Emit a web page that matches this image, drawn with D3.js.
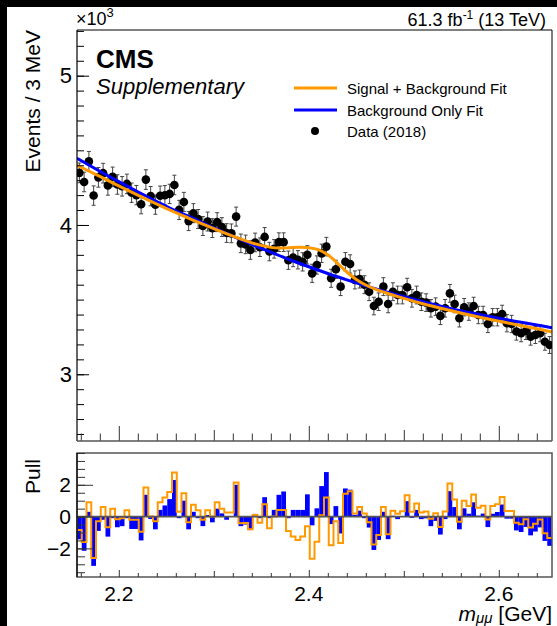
<!DOCTYPE html>
<html>
<head>
<meta charset="utf-8">
<script src="https://cdn.jsdelivr.net/npm/d3@7"></script>
<style>
  body { margin: 0; background: #fff; }
  svg { display: block; }
  text { font-family: "Liberation Sans", Arial, Helvetica, sans-serif; fill: #000; }
</style>
</head>
<body>
<svg id="chart" width="557" height="626"></svg>
<script>
// ---- data -------------------------------------------------------------
const binLo = 2.156;      // GeV, lower edge of first bin
const binWidth = 0.005;   // GeV

// events per bin (data, 2018)
const counts = [4349, 4288, 4426, 4197, 4319, 4347, 4265, 4322, 4271, 4259,
  4275, 4216, 4200, 4139, 4304, 4193, 4136, 4196, 4199, 4208,
  4268, 4101, 4154, 4026, 4079, 4040, 3993, 4023, 3979, 4019,
  3986, 3946, 3944, 4056, 3877, 3870, 3832, 3883, 3851, 3920,
  3822, 3840, 3885, 3885, 3764, 3782, 3767, 3753, 3800, 3676,
  3732, 3810, 3855, 3643, 3703, 3587, 3754, 3739, 3632, 3638,
  3600, 3553, 3457, 3486, 3587, 3471, 3553, 3531, 3531, 3583,
  3509, 3531, 3486, 3480, 3442, 3453, 3391, 3442, 3542, 3471,
  3375, 3449, 3420, 3457, 3397, 3397, 3337, 3382, 3382, 3404,
  3342, 3337, 3286, 3275, 3290, 3252, 3263, 3275, 3218, 3196];

// pulls w.r.t. the background-only fit
const pullBkg = [-1.43, -2.15, 0.3, -3.1, -0.9, -0.2, -1.26, -0.1, -0.67, -0.6,
  -0.1, -0.78, -0.78, -1.5, 1.37, -0.15, -0.8, 0.42, 0.7, 1.1,
  2.3, -0.1, 1.0, -0.8, 0.3, -0.1, -0.6, 0.1, -0.36, 0.5,
  0.2, -0.2, 0.0, 2.0, -0.6, -0.5, -0.85, 0.17, -0.1, 1.22,
  -0.1, 0.42, 1.37, 1.58, -0.1, 0.42, 0.42, 0.42, 1.4, -0.55,
  0.52, 1.92, 2.8, -0.47, 0.66, -1.06, 1.77, 1.69, 0.11, 0.37,
  -0.1, -0.69, -2.1, -1.47, 0.3, -1.42, 0.05, -0.16, 0.0, 0.97,
  -0.08, 0.42, -0.16, -0.11, -0.6, -0.27, -1.13, -0.16, 1.6, 0.6,
  -0.8, 0.52, 0.18, 0.9, 0.06, 0.19, -0.66, 0.18, 0.29, 0.76,
  -0.13, -0.13, -0.87, -0.97, -0.65, -1.18, -0.94, -0.68, -1.53, -1.84];

// pulls w.r.t. the signal + background fit
const pullSB = [-0.84, -1.6, 0.9, -2.6, -0.3, 0.6, -0.67, 0.5, -0.17, -0.1,
  0.4, -0.2, -0.2, -0.95, 1.83, 0.0, -0.3, 0.9, 1.2, 1.54,
  2.78, 0.3, 1.47, -0.35, 0.75, 0.4, -0.2, 0.4, 0.0, 0.9,
  0.5, 0.25, 0.25, 2.15, -0.42, -0.4, -0.8, 0.1, -0.38, 0.78,
  -0.73, 0.0, 0.42, 0.42, -0.9, -1.26, -1.47, -1.26, -0.6, -2.65,
  -1.58, 0.08, 1.2, -1.8, -0.3, -1.66, 1.43, 1.6, 0.19, 0.61,
  0.19, -0.35, -1.76, -1.16, 0.6, -1.11, 0.37, 0.18, 0.34, 1.34,
  0.31, 0.82, 0.26, 0.32, -0.13, 0.21, -0.65, 0.32, 2.08, 1.08,
  -0.32, 1.0, 0.66, 1.39, 0.55, 0.68, -0.18, 0.66, 0.77, 1.24,
  0.35, 0.35, -0.39, -0.48, -0.16, -0.69, -0.45, -0.19, -1.05, -1.35];

// fitted curves, sampled in mass [GeV, events]
const bkgFit = [[2.156, 4447], [2.18, 4360], [2.20, 4290], [2.22, 4222], [2.24, 4157],
  [2.26, 4094], [2.28, 4040], [2.30, 3980], [2.32, 3925], [2.34, 3870], [2.36, 3818],
  [2.38, 3767], [2.40, 3720], [2.42, 3675], [2.44, 3632], [2.46, 3592], [2.48, 3555],
  [2.50, 3520], [2.52, 3486], [2.54, 3455], [2.56, 3426], [2.58, 3400], [2.60, 3375],
  [2.62, 3352], [2.64, 3330], [2.656, 3312]];
const sbFit = [[2.156, 4400], [2.18, 4325], [2.20, 4262], [2.22, 4200], [2.24, 4140],
  [2.26, 4082], [2.28, 4028], [2.30, 3975], [2.32, 3925], [2.34, 3880], [2.36, 3850],
  [2.37, 3845], [2.38, 3848], [2.39, 3850], [2.40, 3848], [2.41, 3835], [2.42, 3800],
  [2.43, 3745], [2.44, 3685], [2.45, 3635], [2.46, 3598], [2.47, 3570], [2.48, 3548],
  [2.50, 3508], [2.52, 3472], [2.54, 3440], [2.56, 3410], [2.58, 3382], [2.60, 3356],
  [2.62, 3330], [2.64, 3305], [2.656, 3283]];

const mainYTicks = [3000, 4000, 5000];
const massTickLabels = [2.2, 2.4, 2.6];
const pullYTicks = [-2, 0, 2];
const legendLabels = ["Signal + Background Fit", "Background Only Fit", "Data (2018)"];

// ---- layout -----------------------------------------------------------
const svg = d3.select("#chart");
const L = 77, R = 552;
const mainTop = 30, mainBot = 441;
const pullTop = 453, pullBot = 577;
const ORANGE = "#ff9900", BLUE = "#0000ff";

const x = d3.scaleLinear().domain([2.156, 2.656]).range([L, R]);
const y = d3.scaleLinear().domain([2553, 5306]).range([mainBot, mainTop]);
const yp = d3.scaleLinear().domain([-3.8, 4.0]).range([pullBot, pullTop]);

const bins = counts.map((n, i) => ({
  lo: binLo + i * binWidth,
  hi: binLo + (i + 1) * binWidth,
  mid: binLo + (i + 0.5) * binWidth,
  n,
  err: Math.sqrt(n),
  pb: pullBkg[i],
  psb: pullSB[i]
}));

const defs = svg.append("defs");
defs.append("clipPath").attr("id", "clipMain").append("rect")
  .attr("x", L).attr("y", mainTop).attr("width", R - L).attr("height", mainBot - mainTop);
defs.append("clipPath").attr("id", "clipPull").append("rect")
  .attr("x", L).attr("y", pullTop).attr("width", R - L).attr("height", pullBot - pullTop);

// ---- main panel -------------------------------------------------------
const gMain = svg.append("g").attr("clip-path", "url(#clipMain)");

// data points with statistical errors
const gData = gMain.append("g");
gData.selectAll("line.eb").data(bins).join("line")
  .attr("x1", d => x(d.mid)).attr("x2", d => x(d.mid))
  .attr("y1", d => y(d.n - d.err)).attr("y2", d => y(d.n + d.err))
  .attr("stroke", "#444").attr("stroke-width", 1);
["lo", "hi"].forEach(k => {
  gData.selectAll("line.cap" + k).data(bins).join("line")
    .attr("x1", d => x(d.mid) - 2).attr("x2", d => x(d.mid) + 2)
    .attr("y1", d => y(k === "lo" ? d.n - d.err : d.n + d.err))
    .attr("y2", d => y(k === "lo" ? d.n - d.err : d.n + d.err))
    .attr("stroke", "#444").attr("stroke-width", 1);
});
gData.selectAll("circle").data(bins).join("circle")
  .attr("cx", d => x(d.mid)).attr("cy", d => y(d.n)).attr("r", 4.3)
  .attr("fill", "#000");

const fitLine = d3.line().x(d => x(d[0])).y(d => y(d[1])).curve(d3.curveCatmullRom);
gMain.append("path").attr("d", fitLine(bkgFit))
  .attr("fill", "none").attr("stroke", BLUE).attr("stroke-width", 3);
gMain.append("path").attr("d", fitLine(sbFit))
  .attr("fill", "none").attr("stroke", ORANGE).attr("stroke-width", 3);

// frame
svg.append("line").attr("x1", L).attr("x2", R).attr("y1", mainTop).attr("y2", mainTop)
  .attr("stroke", "#000").attr("stroke-width", 1);
svg.append("line").attr("x1", R).attr("x2", R).attr("y1", mainTop).attr("y2", mainBot)
  .attr("stroke", "#000").attr("stroke-width", 1);

// y axis (ticks pointing inwards)
const ayMinor = d3.axisLeft(y).tickValues(d3.range(2600, 5301, 100))
  .tickSizeInner(-7).tickSizeOuter(0).tickFormat("");
const ayMajor = d3.axisLeft(y).tickValues(mainYTicks)
  .tickSizeInner(-12).tickSizeOuter(0).tickPadding(5).tickFormat(d => d / 1000);
[ayMinor, ayMajor].forEach(a => {
  const g = svg.append("g").attr("transform", `translate(${L},0)`).call(a);
  g.select(".domain").remove();
  g.selectAll("line").attr("stroke", "#000");
  g.selectAll("text").style("font-size", "22px").attr("fill", "#000");
});
svg.append("line").attr("x1", L).attr("x2", L).attr("y1", mainTop).attr("y2", mainBot)
  .attr("stroke", "#000").attr("stroke-width", 1.2);

// mass-axis ticks at three levels
function massTicks(yPos, sizes) {
  const sets = [
    [d3.range(2.16, 2.66, 0.02).filter(v => Math.abs(v * 10 - Math.round(v * 10)) > 0.01), sizes[2]],
    [[2.3, 2.5], sizes[1]],
    [massTickLabels, sizes[0]]
  ];
  sets.forEach(([vals, s]) => {
    const g = svg.append("g").attr("transform", `translate(0,${yPos})`)
      .call(d3.axisBottom(x).tickValues(vals).tickSizeInner(-s).tickSizeOuter(0).tickFormat(""));
    g.select(".domain").remove();
    g.selectAll("line").attr("stroke", "#333");
  });
}
massTicks(mainBot, [15, 11, 7.5]);
svg.append("line").attr("x1", L).attr("x2", R).attr("y1", mainBot).attr("y2", mainBot)
  .attr("stroke", "#555").attr("stroke-width", 1.6);

// ---- pull panel -------------------------------------------------------
const gPull = svg.append("g").attr("clip-path", "url(#clipPull)");
gPull.selectAll("rect").data(bins).join("rect")
  .attr("x", d => x(d.lo)).attr("width", d => x(d.hi) - x(d.lo))
  .attr("y", d => Math.min(yp(0), yp(d.pb)))
  .attr("height", d => Math.abs(yp(d.pb) - yp(0)))
  .attr("fill", BLUE);

// step outline of the signal + background pulls
const steps = [[bins[0].lo, 0]];
bins.forEach(d => { steps.push([d.lo, d.psb]); steps.push([d.hi, d.psb]); });
steps.push([bins[bins.length - 1].hi, 0]);
gPull.append("path")
  .attr("d", d3.line().x(d => x(d[0])).y(d => yp(d[1]))(steps))
  .attr("fill", "none").attr("stroke", ORANGE).attr("stroke-width", 2);

svg.append("line").attr("x1", L).attr("x2", R).attr("y1", yp(0)).attr("y2", yp(0))
  .attr("stroke", "#555").attr("stroke-width", 1.8);

// pull frame
svg.append("rect").attr("x", L).attr("y", pullTop).attr("width", R - L).attr("height", pullBot - pullTop)
  .attr("fill", "none").attr("stroke", "#555").attr("stroke-width", 1.5);

const apMinor = d3.axisLeft(yp).tickValues(d3.range(-3.5, 4.01, 0.5))
  .tickSizeInner(-8).tickSizeOuter(0).tickFormat("");
const apMajor = d3.axisLeft(yp).tickValues(pullYTicks)
  .tickSizeInner(-16).tickSizeOuter(0).tickPadding(6).tickFormat(d => d < 0 ? "\u2212" + Math.abs(d) : d);
[apMinor, apMajor].forEach(a => {
  const g = svg.append("g").attr("transform", `translate(${L},0)`).call(a);
  g.select(".domain").remove();
  g.selectAll("line").attr("stroke", "#333");
  g.selectAll("text").style("font-size", "21px").attr("fill", "#000");
});
svg.append("line").attr("x1", L).attr("x2", L).attr("y1", pullTop).attr("y2", pullBot)
  .attr("stroke", "#000").attr("stroke-width", 1.2);

massTicks(pullBot, [7, 6, 4]);

// mass tick labels
svg.append("g").selectAll("text").data(massTickLabels).join("text")
  .attr("x", d => x(d)).attr("y", 601).attr("text-anchor", "middle")
  .style("font-size", "21px").text(d => d.toFixed(1));

// ---- text -------------------------------------------------------------
const tx = svg.append("text").attr("x", R).attr("y", 621).attr("text-anchor", "end")
  .style("font-size", "21px");
tx.append("tspan").style("font-style", "italic").text("m");
tx.append("tspan").attr("dy", 2).style("font-size", "15px").style("font-style", "italic").text("\u03bc\u03bc");
tx.append("tspan").attr("dy", -2).text(" [GeV]");

svg.append("text").attr("transform", "translate(40,30) rotate(-90)")
  .attr("text-anchor", "end").style("font-size", "21px").text("Events / 3 MeV");
svg.append("text").attr("transform", "translate(40,459) rotate(-90)")
  .attr("text-anchor", "end").style("font-size", "21px").text("Pull");

const sc = svg.append("text").attr("x", 76).attr("y", 25).style("font-size", "18px");
sc.append("tspan").text("\u00d710");
sc.append("tspan").attr("dy", -8).style("font-size", "13px").text("3");

const lumi = svg.append("text").attr("x", 546).attr("y", 26).attr("text-anchor", "end")
  .style("font-size", "18px");
lumi.append("tspan").text("61.3 fb");
lumi.append("tspan").attr("dy", -7).style("font-size", "12px").text("-1");
lumi.append("tspan").attr("dy", 7).text(" (13 TeV)");

svg.append("text").attr("x", 96).attr("y", 68).style("font-size", "26px")
  .style("font-weight", "bold").text("CMS");
svg.append("text").attr("x", 96).attr("y", 94).style("font-size", "22px")
  .style("font-style", "italic").text("Supplementary");

// legend
const legY = [88, 110, 131];
const leg = svg.append("g");
leg.append("line").attr("x1", 294).attr("x2", 337).attr("y1", legY[0]).attr("y2", legY[0])
  .attr("stroke", ORANGE).attr("stroke-width", 3);
leg.append("line").attr("x1", 294).attr("x2", 337).attr("y1", legY[1]).attr("y2", legY[1])
  .attr("stroke", BLUE).attr("stroke-width", 3);
leg.append("circle").attr("cx", 315).attr("cy", legY[2]).attr("r", 4).attr("fill", "#000");
leg.selectAll("text").data(legendLabels).join("text")
  .attr("x", 347).attr("y", (d, i) => legY[i] + 5.5).style("font-size", "15px").text(d => d);

// dark border strips at the top and left edge
svg.append("rect").attr("x", 0).attr("y", 0).attr("width", 557).attr("height", 7).attr("fill", "#000");
svg.append("rect").attr("x", 0).attr("y", 0).attr("width", 7).attr("height", 626).attr("fill", "#000");
</script>
</body>
</html>
